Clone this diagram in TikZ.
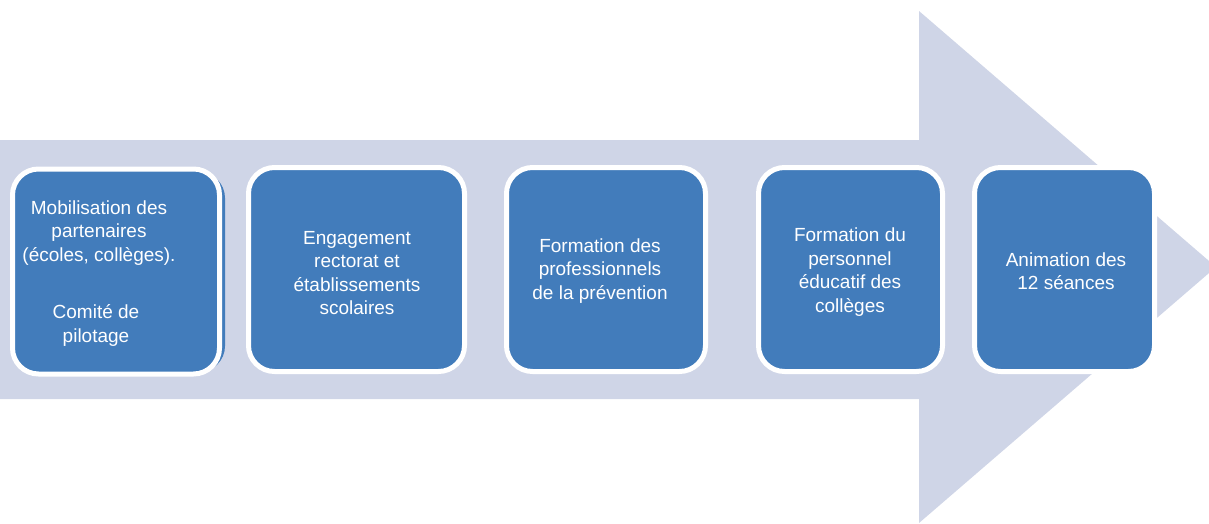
\documentclass[tikz,border=0pt]{standalone}
\usepackage{fontspec}
\setmainfont{Liberation Sans}
\definecolor{arrowc}{HTML}{CFD5E7}
\definecolor{boxc}{HTML}{427CBB}
\tikzset{
  stepbox/.style={draw=white, line width=5pt, fill=boxc, rounded corners=26pt, inner sep=0pt},
  steptext/.style={text=white, align=center, font=\fontsize{19pt}{23.5pt}\selectfont, inner sep=0pt}
}
\begin{document}
\begin{tikzpicture}[x=1pt,y=-1pt]
\useasboundingbox (0,0) rectangle (1209,523);
\fill[arrowc] (-2,140) -- (919,140) -- (919,11) -- (1216,267) -- (919,523) -- (919,399) -- (-2,399) -- cycle;
% shadow of first box
\fill[boxc, rounded corners=26pt] (18,172) rectangle (225,372);
\node[stepbox, minimum width=207pt, minimum height=205pt] (b1) at (116,271.5) {};
\node[stepbox, minimum width=216pt, minimum height=204pt] (b2) at (356.5,269.5) {};
\node[stepbox, minimum width=199pt, minimum height=204pt] (b3) at (606,269.5) {};
\node[stepbox, minimum width=184pt, minimum height=204pt] (b4) at (850.5,269.5) {};
\node[stepbox, minimum width=180pt, minimum height=204pt] (b5) at (1064.5,269.5) {};
\node[steptext, anchor=center] (t1a) at (99,233) {Mobilisation des\\partenaires\\(écoles, collèges).};
\node[steptext, anchor=center] (t1b) at (96,325.5) {Comité de\\pilotage};
\node[steptext] (t2) at (357,273) {Engagement\\rectorat et\\établissements\\scolaires};
\node[steptext] (t3) at (600,271) {Formation des\\professionnels\\de la prévention};
\node[steptext] (t4) at (850,272) {Formation du\\personnel\\éducatif des\\collèges};
\node[steptext] (t5) at (1066,271) {Animation des\\12 séances};
\end{tikzpicture}
\end{document}
